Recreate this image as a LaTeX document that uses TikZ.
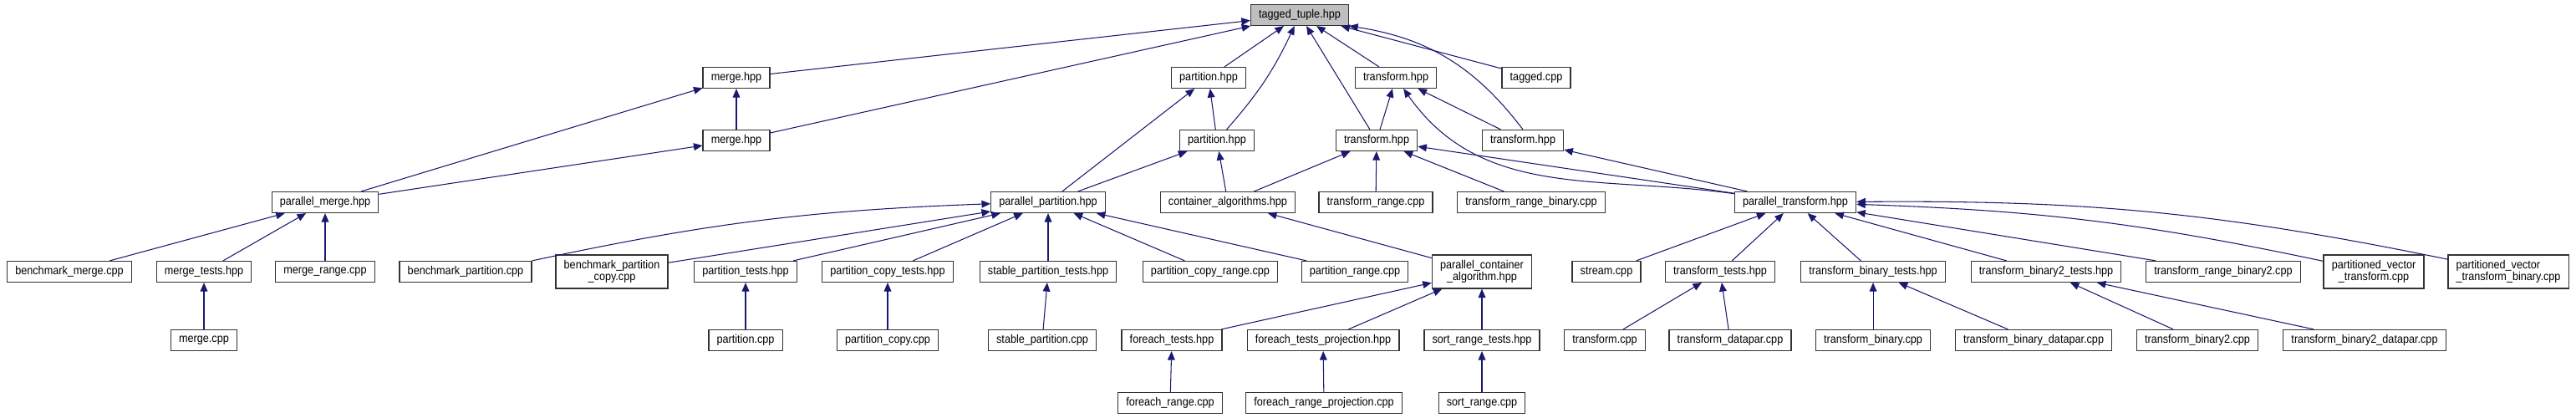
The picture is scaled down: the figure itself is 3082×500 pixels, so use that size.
\documentclass[tikz,border=0pt]{standalone}
\usepackage{fontspec}
\setmainfont{Liberation Sans}[FakeStretch=0.9]
\usetikzlibrary{arrows.meta}
\definecolor{edgeblue}{RGB}{25,25,112}
\definecolor{rootgray}{RGB}{191,191,191}
\newcommand{\dxfont}{\fontsize{8}{8.2}\selectfont}

\begin{document}
\begin{tikzpicture}[x=0.02cm, y=0.02cm,
    file/.style={draw=black!80, line width=0.7pt, fill=white, font=\dxfont,
        inner xsep=5.5pt, inner ysep=1pt, minimum height=14.2pt},
    twoline/.style={file, align=center, minimum height=22.7pt},
    inc/.style={draw=edgeblue, line width=0.6pt, -{Triangle[length=6pt,width=5pt]}}]
    \useasboundingbox (0,0) rectangle (3082,500);

    % Root header
    \node[file, fill=rootgray] (tt) at (1555,482) {tagged\_tuple.hpp};

    % Direct includers
    \node[file] (mergeA) at (881,407) {merge.hpp};
    \node[file] (partA) at (1446,407) {partition.hpp};
    \node[file] (trA) at (1670,407) {transform.hpp};
    \node[file] (tagged) at (1838,407) {tagged.cpp};
    \node[file] (mergeB) at (881,332) {merge.hpp};
    \node[file] (partB) at (1456,332) {partition.hpp};
    \node[file] (trB) at (1647,332) {transform.hpp};
    \node[file] (trC) at (1822,332) {transform.hpp};

    % Parallel algorithm headers
    \node[file] (pmerge) at (389,258) {parallel\_merge.hpp};
    \node[file] (ppart) at (1254,258) {parallel\_partition.hpp};
    \node[file] (calg) at (1469,258) {container\_algorithms.hpp};
    \node[file] (trrange) at (1646,258) {transform\_range.cpp};
    \node[file] (trrbin) at (1832,258) {transform\_range\_binary.cpp};
    \node[file] (ptr) at (2148,258) {parallel\_transform.hpp};

    % Tests and benchmarks
    \node[file] (bmerge) at (83,175) {benchmark\_merge.cpp};
    \node[file] (mtests) at (244,175) {merge\_tests.hpp};
    \node[file] (mrange) at (389,175) {merge\_range.cpp};
    \node[file] (bpart) at (557,175) {benchmark\_partition.cpp};
    \node[twoline] (bpcopy) at (732,175) {benchmark\_partition\\\_copy.cpp};
    \node[file] (ptests) at (892,175) {partition\_tests.hpp};
    \node[file] (pctests) at (1062,175) {partition\_copy\_tests.hpp};
    \node[file] (sptests) at (1254,175) {stable\_partition\_tests.hpp};
    \node[file] (pcrange) at (1448,175) {partition\_copy\_range.cpp};
    \node[file] (prange) at (1621,175) {partition\_range.cpp};
    \node[twoline] (pca) at (1773,175) {parallel\_container\\\_algorithm.hpp};
    \node[file] (stream) at (1922,175) {stream.cpp};
    \node[file] (ttests) at (2058,175) {transform\_tests.hpp};
    \node[file] (tbtests) at (2241,175) {transform\_binary\_tests.hpp};
    \node[file] (tbbtests) at (2448,175) {transform\_binary2\_tests.hpp};
    \node[file] (trrbin2) at (2660,175) {transform\_range\_binary2.cpp};
    \node[twoline] (pvt) at (2840,175) {partitioned\_vector\\\_transform.cpp};
    \node[twoline, align=left] (pvtb) at (3001,175) {partitioned\_vector\\\_transform\_binary.cpp};

    \node[file] (mcpp) at (244,93) {merge.cpp};
    \node[file] (pcpp) at (892,93) {partition.cpp};
    \node[file] (pccpp) at (1062,93) {partition\_copy.cpp};
    \node[file] (spcpp) at (1247,93) {stable\_partition.cpp};
    \node[file] (ftests) at (1402,93) {foreach\_tests.hpp};
    \node[file] (ftproj) at (1583,93) {foreach\_tests\_projection.hpp};
    \node[file] (srtests) at (1773,93) {sort\_range\_tests.hpp};
    \node[file] (tcpp) at (1920,93) {transform.cpp};
    \node[file] (tdcpp) at (2070,93) {transform\_datapar.cpp};
    \node[file] (tbcpp) at (2241,93) {transform\_binary.cpp};
    \node[file] (tbdcpp) at (2433,93) {transform\_binary\_datapar.cpp};
    \node[file] (tbbcpp) at (2629,93) {transform\_binary2.cpp};
    \node[file] (tbbdcpp) at (2829,93) {transform\_binary2\_datapar.cpp};

    \node[file] (frange) at (1400,18) {foreach\_range.cpp};
    \node[file] (frproj) at (1584,18) {foreach\_range\_projection.cpp};
    \node[file] (srange) at (1773,18) {sort\_range.cpp};

    % Include edges
    \foreach \a/\b in {mergeA/tt, mergeB/tt, partA/tt, trA/tt, trB/tt, tagged/tt,
        mergeB/mergeA, pmerge/mergeA, pmerge/mergeB,
        partB/partA, ppart/partA, ppart/partB, calg/partB,
        calg/trB, trrange/trB, trrbin/trB, ptr/trB, trB/trA, trC/trA, ptr/trC,
        bmerge/pmerge, mtests/pmerge, mrange/pmerge, mcpp/mtests,
        bpcopy/ppart, ptests/ppart, pctests/ppart, sptests/ppart, pcrange/ppart, prange/ppart,
        pcpp/ptests, pccpp/pctests, spcpp/sptests,
        pca/calg, ftests/pca, ftproj/pca, srtests/pca,
        frange/ftests, frproj/ftproj, srange/srtests,
        stream/ptr, ttests/ptr, tbtests/ptr, tbbtests/ptr, trrbin2/ptr,
        tcpp/ttests, tdcpp/ttests, tbcpp/tbtests, tbdcpp/tbtests,
        tbbcpp/tbbtests, tbbdcpp/tbbtests} {
        \draw[inc] (\a) -- (\b);
    }

    % Curved edges
    \draw[inc] (partB) to[bend right=8] (tt);
    \draw[inc] (trC.north) to[bend right=22] (tt.south east);
    \draw[inc] (ptr) to[out=172, in=-55] (trA);
    \draw[inc] (bpart.north east) to[bend left=5] (ppart);
    \draw[inc] (pvt) to[bend right=5] (ptr);
    \draw[inc] (pvtb) to[bend right=6] (ptr);
\end{tikzpicture}
\end{document}
